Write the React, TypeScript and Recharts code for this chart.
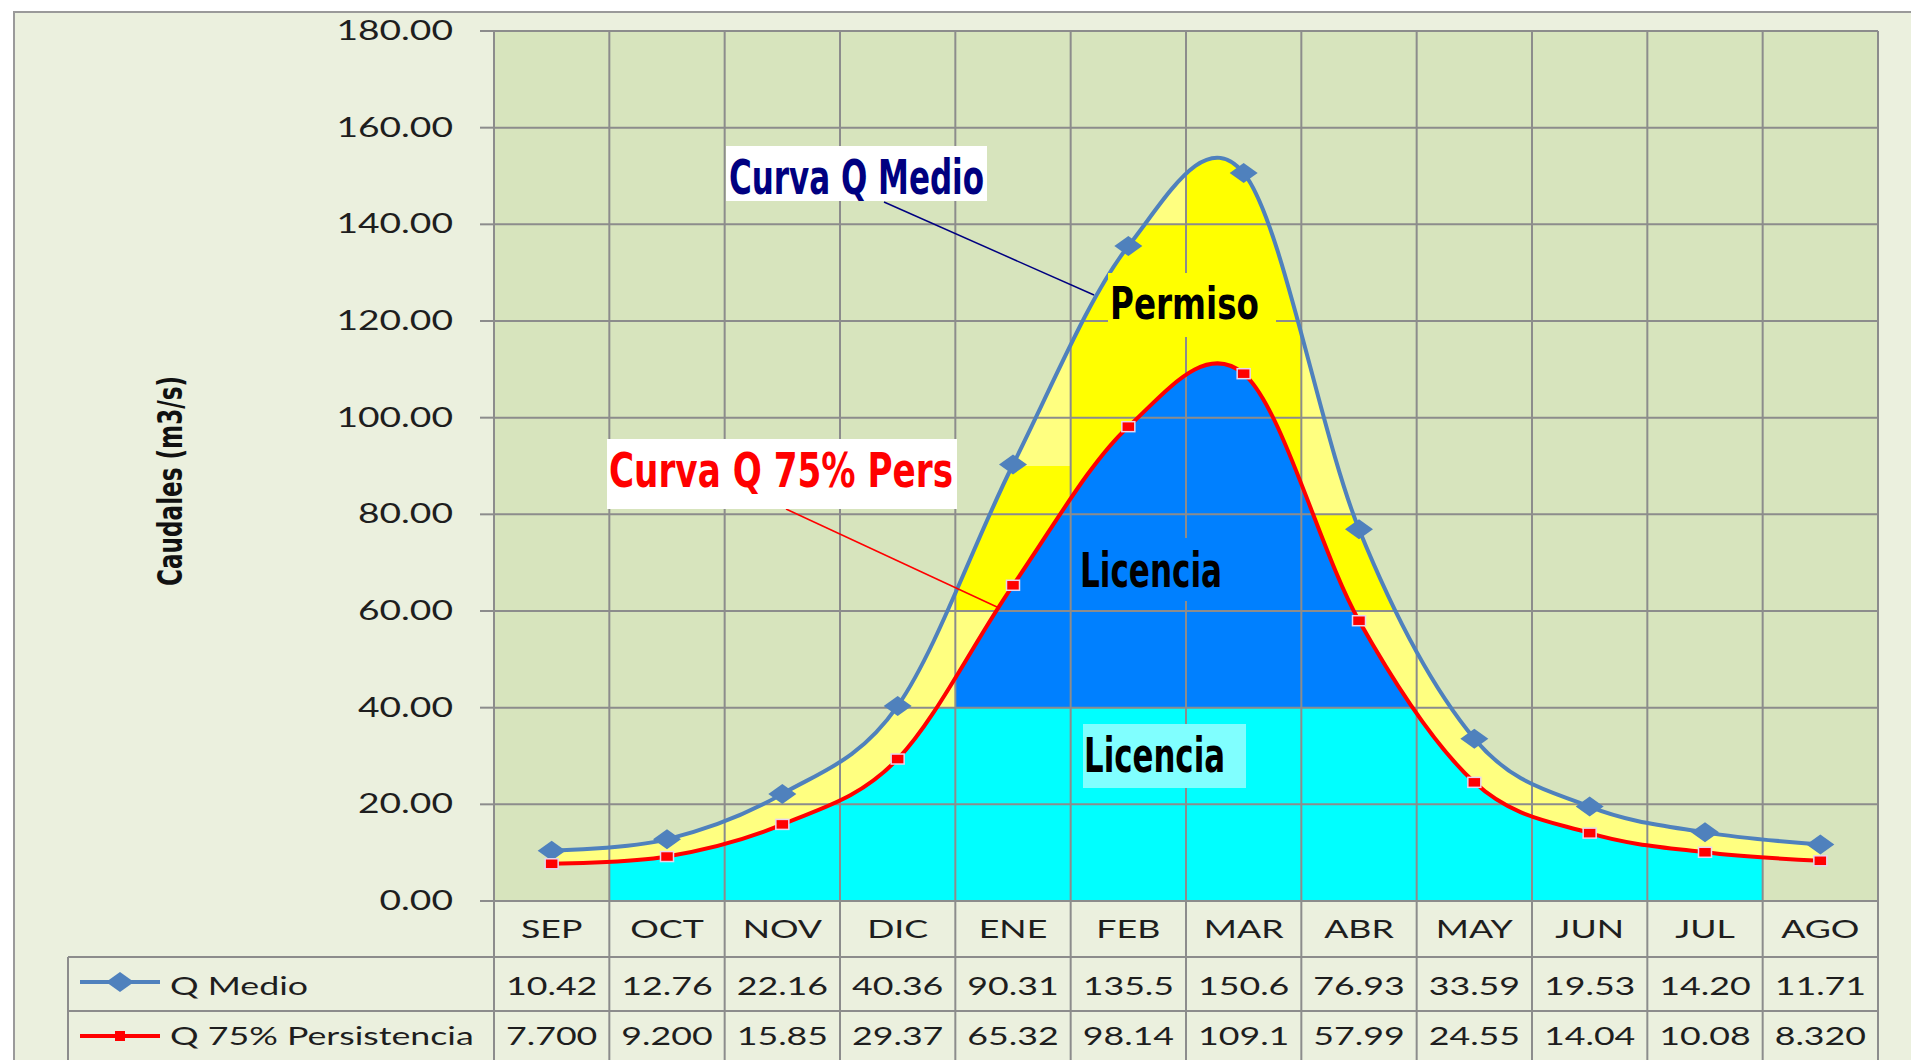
import React from 'react';
import { ComposedChart, Line, Area, XAxis, YAxis, CartesianGrid, ReferenceArea } from 'recharts';

const months = ['SEP', 'OCT', 'NOV', 'DIC', 'ENE', 'FEB', 'MAR', 'ABR', 'MAY', 'JUN', 'JUL', 'AGO'];
const qMedio = [10.42, 12.76, 22.16, 40.36, 90.31, 135.5, 150.6, 76.93, 33.59, 19.53, 14.2, 11.71];
const q75 = [7.7, 9.2, 15.85, 29.37, 65.32, 98.14, 109.1, 57.99, 24.55, 14.04, 10.08, 8.32];
const seriesNames = ['Q Medio', 'Q 75% Persistencia'];
const yTicks = [0, 20, 40, 60, 80, 100, 120, 140, 160, 180];

// fill zones: [first month, last month, low flow, high flow]
const licenciaBaja = [['OCT', 'JUL', 0, 40]];
const licenciaAlta = [['ENE', 'ABR', 40, 180]];
const sinLicencia = [['DIC', 'DIC', 40, 180], ['MAY', 'MAY', 40, 180]];
const permiso = [
  ['ENE', 'ENE', 60, 90],
  ['FEB', 'FEB', 60, 140],
  ['MAR', 'MAR', 60, 180],
  ['ABR', 'ABR', 60, 80],
];

const data = months.map((mes, i) => ({ mes, qMedio: qMedio[i], q75: q75[i] }));

const C = {
  page: '#ffffff',
  chartBg: '#EBF0DE',
  plot: '#D7E4BD',
  grid: '#8C8C8C',
  frame: '#9A9A9A',
  text: '#1E1E1E',
  medio: '#4F81BD',
  pers: '#FF0000',
  pale: '#FFFF80',
  permiso: '#FFFF00',
  alta: '#0080FF',
  baja: '#00FFFF',
  bajaLabel: '#80FFFF',
};

const TABLE_FONT = "Lato, 'Open Sans', 'Liberation Sans', sans-serif";
const ANN_FONT = "'Liberation Sans Narrow', 'DejaVu Sans Condensed', 'Roboto Condensed', 'Liberation Sans', sans-serif";
const SX = 1.43; // the original picture is stretched sideways
const BIG = 5000;
const LEGEND_W = 426;

type Pt = { x: number; y: number };

// Excel "smoothed line" ~ cardinal spline with tension 0 (Catmull-Rom)
class ExcelSmooth {
  _context: any;
  _k = 1 / 6;
  _line: any;
  _point = 0;
  _x0 = NaN; _x1 = NaN; _x2 = NaN;
  _y0 = NaN; _y1 = NaN; _y2 = NaN;
  constructor(context: any) {
    this._context = context;
  }
  areaStart() { this._line = 0; }
  areaEnd() { this._line = NaN; }
  lineStart() {
    this._x0 = this._x1 = this._x2 = this._y0 = this._y1 = this._y2 = NaN;
    this._point = 0;
  }
  lineEnd() {
    switch (this._point) {
      case 2: this._context.lineTo(this._x2, this._y2); break;
      case 3: this.bez(this._x1, this._y1); break;
    }
    if (this._line || (this._line !== 0 && this._point === 1)) this._context.closePath();
    this._line = 1 - this._line;
  }
  point(x: number, y: number) {
    x = +x; y = +y;
    switch (this._point) {
      case 0:
        this._point = 1;
        if (this._line) this._context.lineTo(x, y);
        else this._context.moveTo(x, y);
        break;
      case 1: this._point = 2; this._x1 = x; this._y1 = y; break;
      case 2: this._point = 3; this.bez(x, y); break;
      default: this.bez(x, y); break;
    }
    this._x0 = this._x1; this._x1 = this._x2; this._x2 = x;
    this._y0 = this._y1; this._y1 = this._y2; this._y2 = y;
  }
  bez(x: number, y: number) {
    const k = this._k;
    this._context.bezierCurveTo(
      this._x1 + k * (this._x2 - this._x0),
      this._y1 + k * (this._y2 - this._y0),
      this._x2 + k * (this._x1 - x),
      this._y2 + k * (this._y1 - y),
      this._x2,
      this._y2
    );
  }
}
const excelSmooth = (context: any) => new ExcelSmooth(context);

function smoothD(pts: Pt[]) {
  let d = '';
  const ctx = {
    moveTo: (x: number, y: number) => { d += `M${x},${y}`; },
    lineTo: (x: number, y: number) => { d += `L${x},${y}`; },
    bezierCurveTo: (a: number, b: number, c: number, e: number, x: number, y: number) => {
      d += `C${a},${b},${c},${e},${x},${y}`;
    },
    closePath: () => { d += 'Z'; },
  };
  const curve = new ExcelSmooth(ctx);
  curve.lineStart();
  pts.forEach((p) => curve.point(p.x, p.y));
  curve.lineEnd();
  return d;
}

const closeTo = (pts: Pt[], edge: number) =>
  `${smoothD(pts)}L${pts[pts.length - 1].x},${edge}L${pts[0].x},${edge}Z`;

// dots also hand back the pixel points, used to clip the coloured zones to the curves
const medioPts: Pt[] = [];
const persPts: Pt[] = [];
function collect(store: Pt[], props: any): Pt[] | null {
  const { cx, cy, index } = props;
  if (index === 0) store.length = 0;
  store[index] = { x: cx, y: cy };
  if (index !== months.length - 1) return null;
  if (Array.isArray(props.points) && props.points.length === months.length) return props.points;
  return store;
}

function MedioDot(props: any) {
  const pts = collect(medioPts, props);
  const { cx, cy, index } = props;
  return (
    <g key={`medio-${index}`}>
      {pts && (
        <clipPath id="clip-bajo-medio">
          <path d={closeTo(pts, BIG)} />
        </clipPath>
      )}
      <path d={`M${cx - 14},${cy}L${cx},${cy - 10}L${cx + 14},${cy}L${cx},${cy + 10}Z`} fill={C.medio} />
    </g>
  );
}

function PersDot(props: any) {
  const pts = collect(persPts, props);
  const { cx, cy, index } = props;
  return (
    <g key={`pers-${index}`}>
      {pts && (
        <clipPath id="clip-bajo-pers">
          <path d={closeTo(pts, BIG)} />
        </clipPath>
      )}
      {pts && (
        <clipPath id="clip-sobre-pers">
          <path d={closeTo(pts, -BIG)} />
        </clipPath>
      )}
      <rect x={cx - 6.5} y={cy - 5} width={13} height={10} fill={C.pers} stroke="#E6D6EE" strokeWidth={1.5} />
    </g>
  );
}

const zoneShape = (fill: string, clipA: string, clipB?: string) => (p: any) => {
  const rect = (
    <rect x={p.x} y={p.y} width={p.width} height={p.height} fill={fill} stroke="none" clipPath={`url(#${clipA})`} />
  );
  return clipB ? <g clipPath={`url(#${clipB})`}>{rect}</g> : rect;
};

// vertical grid lines sit on the column edges, not on the category centres
const columnEdges = (props: any) => {
  const { xAxis, offset } = props || {};
  const s = xAxis && xAxis.scale;
  if (typeof s === 'function' && typeof s.bandwidth === 'function') {
    const b = s.bandwidth();
    return [...months.map((m) => s(m)), s(months[months.length - 1]) + b];
  }
  const w = offset.width / months.length;
  return [...months.map((_, i) => offset.left + i * w), offset.left + offset.width];
};

const stretched = (x: number, y: number, s: string, anchor: string, size = 25) => (
  <text
    x={0}
    y={0}
    transform={`translate(${x},${y}) scale(${SX},1)`}
    textAnchor={anchor}
    fontFamily={TABLE_FONT}
    fontSize={size}
    fill={C.text}
  >
    {s}
  </text>
);

function YTick(props: any) {
  const { x, y, payload } = props;
  return <g>{stretched(x, y + 9, Number(payload.value).toFixed(2), 'end', 26)}</g>;
}

// category row + data table under the plot
function TableTick(props: any) {
  const { x, y, payload, index } = props;
  const colW = props.width ? props.width / months.length : (payload.offset || 57.5) * 2;
  const half = colW / 2;
  const left = x - half;
  const right = x + half;
  const row1 = y + 56;
  const row2 = row1 + 54;
  const bottom = row2 + 54;
  const ln = { stroke: C.grid, strokeWidth: 2 };
  const lx = left - LEGEND_W;
  return (
    <g>
      <line x1={right} y1={y} x2={right} y2={bottom} {...ln} />
      <line x1={left} y1={row1} x2={right} y2={row1} {...ln} />
      <line x1={left} y1={row2} x2={right} y2={row2} {...ln} />
      {stretched(x, y + 37, payload.value, 'middle')}
      {stretched(x, row1 + 38, qMedio[index].toPrecision(4), 'middle')}
      {stretched(x, row2 + 34, q75[index].toPrecision(4), 'middle')}
      {index === 0 && (
        <g>
          <line x1={left} y1={y} x2={left} y2={bottom} {...ln} />
          <line x1={lx} y1={row1} x2={left} y2={row1} {...ln} />
          <line x1={lx} y1={row2} x2={left} y2={row2} {...ln} />
          <line x1={lx} y1={row1} x2={lx} y2={bottom} {...ln} />
          <line x1={lx + 12} y1={row1 + 25} x2={lx + 92} y2={row1 + 25} stroke={C.medio} strokeWidth={4} />
          <path
            d={`M${lx + 38},${row1 + 25}L${lx + 52},${row1 + 15}L${lx + 66},${row1 + 25}L${lx + 52},${row1 + 35}Z`}
            fill={C.medio}
          />
          <line x1={lx + 12} y1={row2 + 25} x2={lx + 92} y2={row2 + 25} stroke={C.pers} strokeWidth={4} />
          <rect x={lx + 47} y={row2 + 20} width={10} height={10} fill={C.pers} />
          {stretched(lx + 102, row1 + 38, seriesNames[0], 'start')}
          {stretched(lx + 102, row2 + 34, seriesNames[1], 'start')}
        </g>
      )}
    </g>
  );
}

function Annotations() {
  const ann = { fontFamily: ANN_FONT, fontWeight: 'bold' as const, lengthAdjust: 'spacingAndGlyphs' };
  return (
    <svg width={1911} height={1060} style={{ position: 'absolute', left: 0, top: 0, pointerEvents: 'none' }}>
      <text transform="translate(182,481) rotate(-90)" textAnchor="middle" fontSize={34} textLength={210} fill="#111" {...ann}>
        Caudales (m3/s)
      </text>

      <line x1={884} y1={202} x2={1094} y2={295} stroke="#000080" strokeWidth={1.5} />
      <rect x={726} y={146} width={261} height={55} fill="#ffffff" />
      <text x={729} y={194} fontSize={48} textLength={255} fill="#000080" {...ann}>
        Curva Q Medio
      </text>

      <line x1={786} y1={509} x2={997} y2={607} stroke={C.pers} strokeWidth={1.5} />
      <rect x={607} y={439} width={350} height={70} fill="#ffffff" />
      <text x={609} y={487} fontSize={48} textLength={344} fill={C.pers} {...ann}>
        Curva Q 75% Pers
      </text>

      <rect x={1108} y={273} width={168} height={64} fill={C.permiso} />
      <text x={1110} y={319} fontSize={45} textLength={149} fill="#000" {...ann}>
        Permiso
      </text>

      <rect x={1076} y={538} width={152} height={63} fill={C.alta} />
      <text x={1080} y={587} fontSize={48} textLength={142} fill="#000" {...ann}>
        Licencia
      </text>

      <rect x={1083} y={724} width={163} height={64} fill={C.bajaLabel} />
      <text x={1084} y={772} fontSize={48} textLength={141} fill="#000" {...ann}>
        Licencia
      </text>
    </svg>
  );
}

export default function App() {
  return (
    <div style={{ position: 'relative', width: 1911, height: 1060, overflow: 'hidden', background: C.page }}>
      <style>{'html,body{margin:0;padding:0;overflow:hidden;background:#fff}'}</style>
      <div
        style={{
          position: 'absolute',
          left: 13,
          top: 11,
          width: 1960,
          height: 1120,
          background: C.chartBg,
          border: `2px solid ${C.frame}`,
          boxSizing: 'border-box',
        }}
      />
      <div style={{ position: 'absolute', left: 0, top: 0 }}>
        <ComposedChart width={1911} height={1060} data={data} margin={{ top: 31, right: 33, bottom: 0, left: 0 }}>
          <CartesianGrid fill={C.plot} fillOpacity={1} horizontal={false} vertical={false} stroke="none" />
          <XAxis
            dataKey="mes"
            type="category"
            scale="band"
            height={159}
            axisLine={false}
            tickLine={false}
            tickSize={0}
            tickMargin={0}
            interval={0}
            tick={TableTick}
          />
          <YAxis
            type="number"
            domain={[0, 180]}
            ticks={yTicks}
            width={494}
            interval={0}
            axisLine={false}
            tickLine={{ stroke: C.grid, strokeWidth: 2 }}
            tickSize={14}
            tickMargin={27}
            tick={YTick}
            allowDataOverflow
          />

          {/* band between the two curves */}
          <Area
            type={excelSmooth}
            dataKey={(d: any) => [d.q75, d.qMedio]}
            stroke="none"
            fill={C.pale}
            fillOpacity={1}
            dot={false}
            activeDot={false}
            isAnimationActive={false}
            zIndex={100}
          />

          {/* zones under the 75% curve */}
          {licenciaBaja.map(([a, b, lo, hi]) => (
            <ReferenceArea key={`lb-${a}`} x1={a} x2={b} y1={lo} y2={hi} shape={zoneShape(C.baja, 'clip-bajo-pers')} zIndex={105} />
          ))}
          {licenciaAlta.map(([a, b, lo, hi]) => (
            <ReferenceArea key={`la-${a}`} x1={a} x2={b} y1={lo} y2={hi} shape={zoneShape(C.alta, 'clip-bajo-pers')} zIndex={105} />
          ))}
          {sinLicencia.map(([a, b, lo, hi]) => (
            <ReferenceArea key={`sl-${a}`} x1={a} x2={b} y1={lo} y2={hi} shape={zoneShape(C.pale, 'clip-bajo-pers')} zIndex={105} />
          ))}

          {/* permit zones between the curves */}
          {permiso.map(([a, b, lo, hi]) => (
            <ReferenceArea
              key={`pm-${a}`}
              x1={a}
              x2={b}
              y1={lo}
              y2={hi}
              shape={zoneShape(C.permiso, 'clip-sobre-pers', 'clip-bajo-medio')}
              zIndex={110}
            />
          ))}

          <CartesianGrid
            stroke={C.grid}
            strokeWidth={2}
            fill="none"
            verticalCoordinatesGenerator={columnEdges}
            zIndex={350}
          />

          <Line
            type={excelSmooth}
            dataKey="qMedio"
            name={seriesNames[0]}
            stroke={C.medio}
            strokeWidth={4}
            dot={MedioDot}
            activeDot={false}
            isAnimationActive={false}
          />
          <Line
            type={excelSmooth}
            dataKey="q75"
            name={seriesNames[1]}
            stroke={C.pers}
            strokeWidth={4}
            dot={PersDot}
            activeDot={false}
            isAnimationActive={false}
          />
        </ComposedChart>
      </div>
      <Annotations />
    </div>
  );
}
